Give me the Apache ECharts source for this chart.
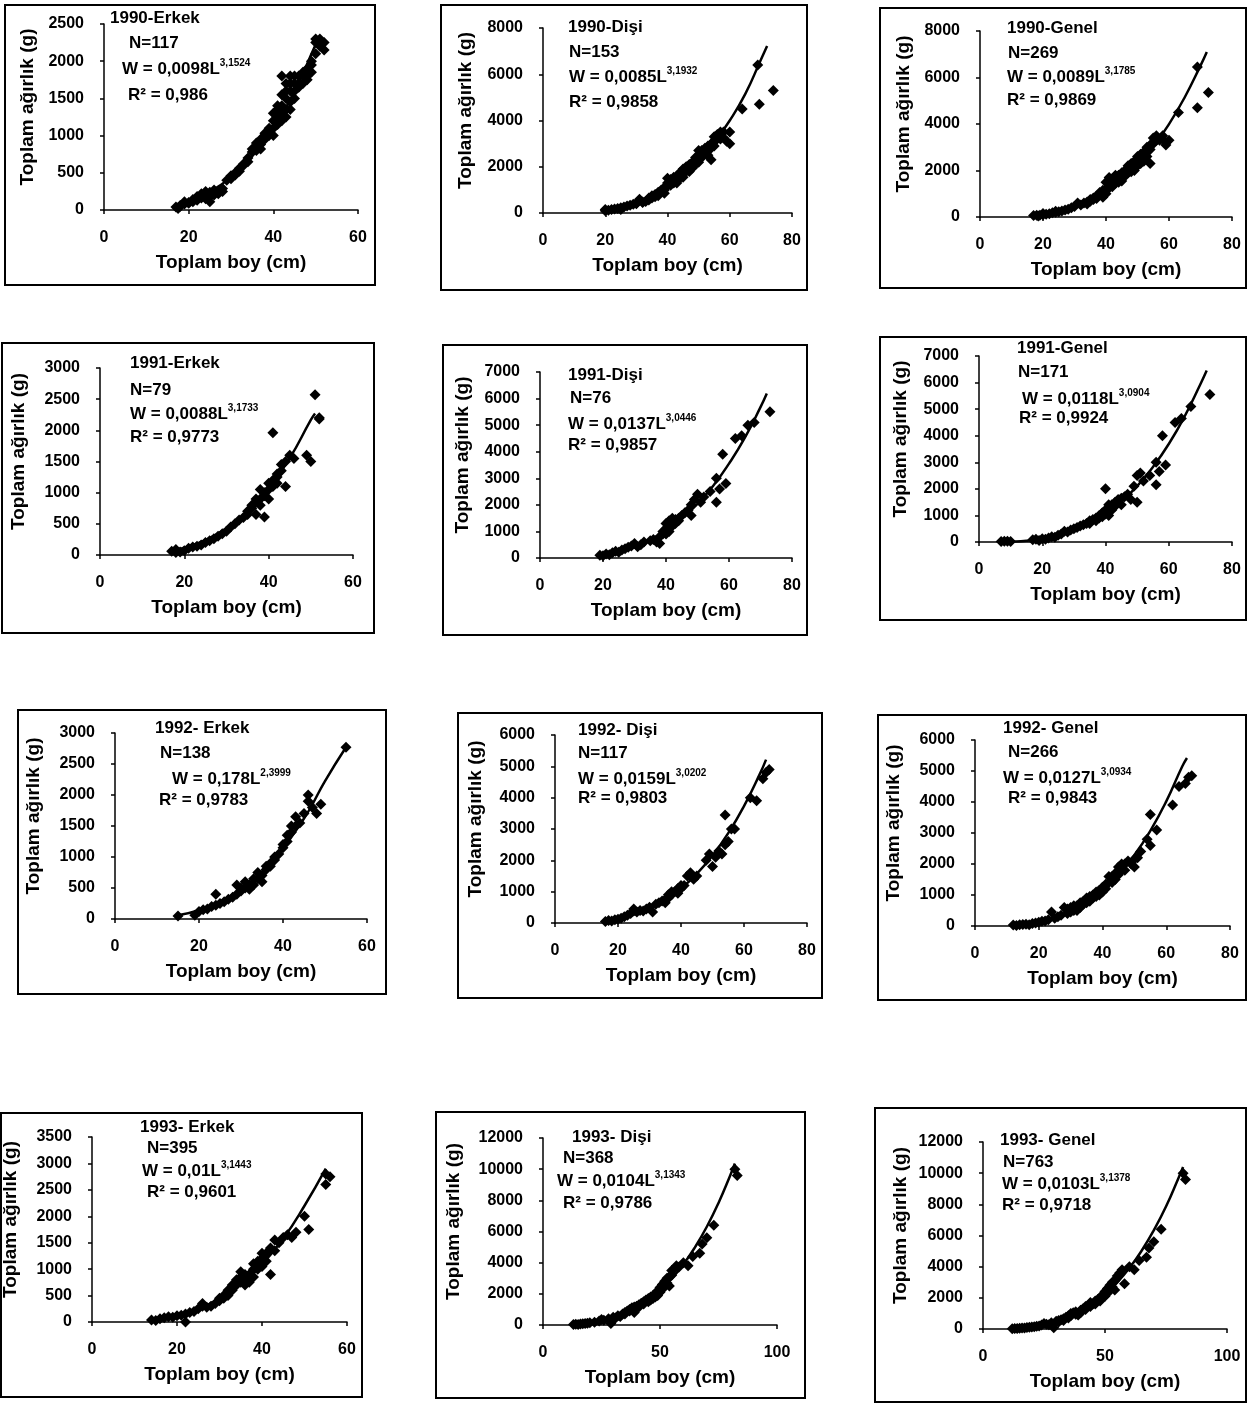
<!DOCTYPE html>
<html><head><meta charset="utf-8">
<script src="https://cdn.jsdelivr.net/npm/echarts/dist/echarts.min.js"></script>
<style>html,body{margin:0;padding:0;background:#fff}#c{width:1248px;height:1406px}</style>
</head><body><div id="c"></div>
<script>
// ---------- DATA ----------
const titles = ['1990-Erkek','1990-Dişi','1990-Genel','1991-Erkek','1991-Dişi','1991-Genel','1992- Erkek','1992- Dişi','1992- Genel','1993- Erkek','1993- Dişi','1993- Genel'];
const nTexts = ['N=117','N=153','N=269','N=79','N=76','N=171','N=138','N=117','N=266','N=395','N=368','N=763'];
const coefTexts = ['W = 0,0098L','W = 0,0085L','W = 0,0089L','W = 0,0088L','W = 0,0137L','W = 0,0118L','W = 0,178L','W = 0,0159L','W = 0,0127L','W = 0,01L','W = 0,0104L','W = 0,0103L'];
const expTexts = ['3,1524','3,1932','3,1785','3,1733','3,0446','3,0904','2,3999','3,0202','3,0934','3,1443','3,1343','3,1378'];
const r2Texts = ['R² = 0,986','R² = 0,9858','R² = 0,9869','R² = 0,9773','R² = 0,9857','R² = 0,9924','R² = 0,9783','R² = 0,9803','R² = 0,9843','R² = 0,9601','R² = 0,9786','R² = 0,9718'];
const xAxisName = 'Toplam boy (cm)';
const yAxisName = 'Toplam ağırlık (g)';
const yMax  = [2500,8000,8000,3000,7000,7000,3000,6000,6000,3500,12000,12000];
const yStep = [500,2000,2000,500,1000,1000,500,1000,1000,500,2000,2000];
const xMax  = [60,80,80,60,80,80,60,80,80,60,100,100];
const xStep = [20,20,20,20,20,20,20,20,20,20,50,50];

const pts1990E = [[17,40],[17.5,20],[18,60],[18,50],[19,80],[19,110],[20,100],[20,90],[21,110],[21,140],[22,130],[22,180],[23,160],[23,220],[24,250],[24,150],[25,180],[25,240],[25,110],[26,200],[26,270],[27,260],[27,220],[28,290],[28,250],[29,400],[30,420],[30,460],[31,500],[31,470],[32,520],[32,560],[33,620],[33,600],[34,700],[34,650],[35,780],[35,820],[36,850],[36,800],[36,900],[37,880],[37,820],[37,950],[38,950],[38,1030],[38,1000],[39,1000],[39,1100],[39,1050],[40,1100],[40,1000],[40,1200],[40,1300],[41,1150],[41,1250],[41,1350],[41,1400],[42,1300],[42,1200],[42,1400],[42,1550],[42,1800],[43,1350],[43,1500],[43,1250],[43,1600],[43,1700],[44,1450],[44,1600],[44,1350],[44,1700],[44,1800],[45,1500],[45,1600],[45,1700],[45,1800],[46,1650],[46,1700],[46,1800],[47,1700],[47,1800],[47,1850],[48,1900],[48,1750],[48,1800],[49,1950],[49,1850],[49,2000],[50,2100],[50,2250],[50,2300],[51,2300],[51,2200],[51,2250],[52,2150],[52,2250]];
const fit1990E = [[17,75],[20,125],[25,250],[30,445],[35,725],[40,1100],[45,1595],[50,2225],[51,2330]];

const pts1990D = [[20,100],[20,150],[21,120],[22,150],[23,170],[24,200],[25,230],[25,150],[26,260],[27,300],[28,330],[29,380],[30,420],[30,400],[31,600],[32,480],[32,450],[33,500],[34,560],[34,650],[35,650],[35,750],[36,800],[36,700],[37,900],[37,750],[38,950],[38,1000],[39,1100],[39,850],[39,1000],[40,1200],[40,1500],[40,1300],[41,1450],[41,1300],[41,1200],[42,1400],[42,1550],[42,1300],[43,1600],[43,1300],[43,1450],[44,1500],[44,1750],[44,1600],[45,1700],[45,1900],[45,1550],[46,2000],[46,1800],[46,1900],[47,1800],[47,2100],[47,1950],[48,2200],[48,1950],[48,2050],[49,2400],[49,2100],[49,2250],[50,2500],[50,2200],[50,2700],[50,2350],[51,2700],[51,2400],[51,2550],[52,2600],[52,2800],[52,2700],[53,2900],[53,2500],[53,2750],[54,3000],[54,2300],[54,2800],[55,3300],[55,3100],[55,2900],[56,3400],[56,3200],[57,3200],[57,3500],[58,3500],[58,3250],[59,3100],[60,3000],[60,3500],[64,4500],[69,6400],[69.5,4700],[74,5300]];
const fit1990D = [[20,120],[25,250],[30,440],[35,720],[40,1110],[45,1620],[50,2265],[55,3050],[60,4000],[65,5150],[70,6630],[72,7220]];

const pts1990G = [[17,60],[18,70],[18.5,40],[19,80],[20,100],[20,150],[21,120],[22,140],[23,180],[24,200],[24,250],[25,230],[26,260],[27,300],[28,330],[29,400],[30,450],[31,600],[32,520],[33,600],[34,650],[34,560],[35,750],[35,680],[36,820],[36,750],[37,900],[37,800],[38,950],[38,1050],[39,1050],[39,850],[39,1150],[40,1200],[40,1500],[40,1000],[41,1400],[41,1700],[41,1250],[42,1500],[42,1300],[42,1650],[43,1600],[43,1800],[43,1450],[44,1500],[44,1800],[44,1650],[45,1700],[45,1900],[45,1550],[46,2000],[46,1750],[46,1850],[47,1900],[47,2200],[47,2050],[48,2100],[48,2300],[48,1950],[49,2400],[49,2000],[49,2200],[50,2600],[50,2200],[50,2400],[51,2700],[51,2500],[51,2300],[52,2800],[52,2400],[52,2600],[53,3000],[53,2600],[53,2800],[54,3100],[54,2300],[54,2900],[55,3400],[55,3150],[56,3500],[56,3300],[57,3300],[58,3500],[59,3200],[59,3100],[60,3300],[63,4500],[69,6450],[69,4700],[72.5,5350]];
const fit1990G = [[17,72],[20,121],[25,250],[30,441],[35,720],[40,1101],[45,1600],[50,2238],[55,3030],[60,3995],[65,5150],[70,6512],[72,7100]];

const pts1991E = [[17,60],[18,90],[18,40],[19,50],[20,70],[21,110],[22,130],[23,140],[24,160],[25,200],[26,230],[27,260],[28,300],[29,340],[30,380],[31,450],[32,500],[33,560],[34,600],[35,700],[35,650],[36,750],[36,800],[37,850],[37,650],[37,900],[38,900],[38,1050],[38,800],[39,950],[39,610],[39,1000],[40,1050],[40,1150],[40,900],[41,1200],[41,1100],[41,1960],[42,1300],[42,1250],[42,1150],[43,1450],[43,1350],[44,1500],[44,1100],[45,1600],[46,1550],[49,1600],[50,1500],[51,2570],[52,2180],[52,2200]];
const fit1991E = [[17,70],[20,118],[25,240],[30,428],[35,698],[40,1067],[45,1553],[50,2167],[51,2270]];

const pts1991D = [[19,100],[20,80],[21,150],[22,120],[23,200],[24,250],[25,220],[26,300],[27,350],[28,400],[29,450],[30,550],[31,420],[32,500],[33,600],[35,650],[36,700],[37,600],[38,800],[38,550],[39,900],[39,1000],[40,1100],[40,1300],[40,900],[41,1000],[41,1400],[41,1200],[42,1200],[42,1500],[43,1300],[43,1450],[44,1500],[44,1400],[45,1600],[46,1700],[47,1800],[48,2000],[48,1600],[49,2200],[50,2400],[51,2100],[52,2300],[54,2500],[56,3000],[56,2100],[57,2600],[58,3900],[59,2800],[62,4500],[64,4600],[66,5000],[68,5100],[73,5500]];
const fit1991D = [[19,107],[20,125],[25,247],[30,430],[35,690],[40,1035],[45,1480],[50,2040],[55,2720],[60,3552],[65,4520],[70,5677],[72,6190]];

const pts1991G = [[7,20],[8,30],[9,30],[10,20],[17,80],[18,100],[19,60],[20,120],[21,100],[22,150],[23,200],[24,180],[25,250],[26,300],[27,400],[28,380],[29,450],[30,500],[31,550],[32,600],[33,650],[34,700],[35,800],[35,700],[36,850],[37,900],[37,800],[38,1000],[38,900],[39,1100],[39,950],[40,2000],[40,1200],[40,1050],[41,1300],[41,1000],[41,1400],[42,1400],[42,1200],[43,1500],[43,1350],[44,1600],[45,1400],[45,1650],[46,1700],[47,1800],[48,1600],[49,2100],[50,2500],[50,1500],[51,2600],[52,2300],[54,2500],[56,3000],[56,2150],[57,2650],[58,4000],[59,2900],[62,4500],[64,4650],[67,5100],[73,5550]];
const fit1991G = [[7,5],[10,15],[15,51],[20,124],[25,247],[30,433],[35,697],[40,1055],[45,1519],[50,2100],[55,2820],[60,3688],[65,4724],[70,5935],[72,6450]];

const pts1992E = [[15,50],[19,60],[20,120],[21,150],[22,160],[23,200],[24,400],[24,220],[25,250],[26,280],[27,320],[28,350],[29,550],[29,400],[30,450],[30,500],[31,600],[31,500],[32,480],[32,550],[33,550],[33,650],[34,650],[34,750],[35,700],[35,600],[36,800],[36,850],[37,900],[37,850],[38,950],[38,1000],[39,1050],[40,1200],[40,1150],[41,1250],[41,1350],[42,1400],[42,1500],[43,1650],[43,1500],[44,1550],[45,1700],[46,2000],[46,1900],[47,1800],[48,1700],[49,1850],[55,2770]];
const fit1992E = [[15,60],[20,142],[25,278],[30,480],[35,763],[40,1139],[45,1622],[47,1850],[50,2225],[55,2770]];

const pts1992D = [[16,50],[17,80],[18,60],[19,100],[20,120],[21,150],[22,200],[23,250],[24,300],[25,450],[26,350],[27,400],[28,380],[29,450],[30,500],[31,350],[32,600],[33,650],[34,700],[35,750],[35,650],[36,800],[36,900],[37,900],[37,1000],[38,1000],[39,950],[39,1100],[40,1100],[40,1200],[41,1200],[42,1500],[43,1600],[44,1400],[45,1500],[48,2000],[49,2200],[50,1800],[51,2100],[52,2300],[53,2200],[54,2500],[54,3450],[55,2600],[56,3000],[57,3000],[62,4000],[64,3900],[66,4600],[67,4800],[68,4900]];
const fit1992D = [[16,69],[20,135],[25,265],[30,460],[35,731],[40,1097],[45,1566],[50,2151],[55,2867],[60,3729],[65,4751],[67,5215]];

const pts1992G = [[12,30],[13,20],[14,40],[15,50],[16,60],[17,40],[18,80],[19,100],[20,120],[21,150],[22,160],[23,200],[24,450],[25,250],[26,300],[27,350],[28,600],[29,400],[29,550],[30,450],[30,600],[31,650],[31,500],[32,500],[32,650],[33,600],[33,750],[34,700],[34,800],[35,750],[35,900],[36,800],[36,950],[37,900],[37,1000],[38,950],[38,1100],[39,1000],[39,1150],[40,1100],[40,1250],[41,1200],[41,1350],[42,1600],[42,1400],[43,1400],[43,1600],[44,1500],[44,1700],[45,1900],[45,1650],[46,2000],[46,1800],[47,1800],[47,2000],[48,2100],[49,2000],[50,1900],[50,2150],[51,2200],[52,2400],[54,2800],[55,3600],[55,2600],[57,3100],[62,3900],[64,4500],[66,4600],[67,4800],[68,4850]];
const fit1992G = [[12,28],[15,55],[20,135],[25,268],[30,471],[35,758],[40,1148],[45,1654],[50,2287],[55,3071],[60,4021],[65,5147],[66.5,5420]];

const pts1993E = [[14,40],[15,30],[16,60],[17,80],[18,100],[19,90],[20,120],[21,130],[22,150],[22,0],[23,180],[24,200],[25,250],[26,300],[26,350],[27,280],[28,300],[29,350],[30,400],[30,450],[31,450],[31,500],[32,500],[32,600],[33,600],[33,700],[34,700],[34,800],[35,850],[35,950],[35,750],[36,900],[36,700],[36,800],[37,750],[37,900],[38,1000],[38,1100],[38,850],[39,1000],[39,1150],[40,1200],[40,1050],[40,1300],[41,1300],[41,1150],[42,1400],[42,900],[43,1550],[43,1350],[44,1500],[45,1600],[46,1650],[47,1600],[48,1700],[50,2000],[51,1750],[55,2800],[55,2600],[56,2750]];
const fit1993E = [[14,40],[20,123],[25,249],[30,441],[35,716],[40,1091],[45,1580],[50,2199],[55,2900]];

const pts1993D = [[13,30],[14,50],[15,40],[16,60],[17,80],[18,100],[19,120],[20,150],[22,180],[24,250],[25,350],[26,300],[28,400],[29,100],[30,500],[31,450],[32,600],[33,550],[34,700],[35,800],[35,700],[36,900],[37,1000],[37,900],[38,1100],[39,800],[39,1150],[40,1200],[41,1300],[41,1150],[42,1400],[43,1500],[43,1350],[44,1600],[45,1700],[45,1500],[46,1800],[46,1600],[47,1900],[47,1700],[48,2000],[48,1800],[49,2200],[49,1900],[50,2400],[50,2100],[51,2600],[51,2300],[52,2800],[52,2500],[53,3000],[53,2700],[54,2500],[54,3100],[55,3500],[55,3200],[56,3600],[57,3800],[58,3700],[60,4000],[62,3800],[64,4400],[67,4600],[68,5200],[70,5600],[73,6400],[82,10000],[83,9600]];
const fit1993D = [[13,32],[20,125],[25,250],[30,443],[35,718],[40,1093],[45,1581],[50,2196],[55,2963],[60,3890],[65,5001],[70,6303],[75,7830],[80,9595],[82,10360]];

const pts1993G = [[12,20],[13,30],[14,40],[15,50],[16,60],[17,70],[18,90],[19,110],[20,130],[21,150],[22,170],[23,200],[24,250],[25,350],[26,300],[27,280],[28,400],[29,80],[30,500],[31,550],[31,450],[32,600],[33,650],[33,550],[34,750],[35,850],[35,700],[36,1000],[36,850],[37,1050],[38,1100],[38,950],[39,900],[40,1200],[40,1050],[41,1300],[42,1450],[42,1250],[43,1500],[44,1700],[44,1450],[45,1600],[46,1800],[46,1600],[47,1900],[48,2000],[48,1800],[49,2200],[50,2400],[50,2100],[51,2600],[51,2300],[52,2800],[52,2500],[53,3000],[53,2700],[54,2500],[54,3100],[55,3400],[56,3600],[57,3800],[58,2900],[60,4000],[62,3800],[64,4400],[67,4600],[68,5200],[70,5600],[73,6400],[82,10000],[83,9600]];
const fit1993G = [[12,25],[20,125],[25,250],[30,444],[35,718],[40,1097],[45,1585],[50,2207],[55,2980],[60,3908],[65,5020],[70,6335],[75,7860],[80,9649],[82,10400]];

const allPts = [pts1990E,pts1990D,pts1990G,pts1991E,pts1991D,pts1991G,pts1992E,pts1992D,pts1992G,pts1993E,pts1993D,pts1993G];
const allFit = [fit1990E,fit1990D,fit1990G,fit1991E,fit1991D,fit1991G,fit1992E,fit1992D,fit1992G,fit1993E,fit1993D,fit1993G];

// ---------- LAYOUT (pixels) ----------
const grids = [[104,24,254,186],[543,28,249,185],[980,31,252,186],[100,368,253,187],[540,372,252,186],[979,356,253,186],[115,733,252,186],[555,735,252,188],[975,740,255,186],[92,1137,255,185],[543,1138,234,187],[983,1142,244,187]];
const frames = [[5,5,370,280],[441,5,366,285],[880,8,366,280],[2,343,372,290],[443,345,364,290],[880,337,366,283],[18,710,368,284],[458,713,364,285],[878,715,368,285],[1,1113,361,284],[436,1112,369,286],[875,1108,371,294]];
const yNameGap = [67,68,67,72,68,69,72,70,72,72,80,73];
const annPos = [
  [[110,18],[129,43],[122,68],[128,95]],
  [[568,27],[569,52],[569,76],[569,102]],
  [[1007,28],[1008,53],[1007,76],[1007,100]],
  [[130,363],[130,390],[130,413],[130,437]],
  [[568,375],[570,398],[568,423],[568,445]],
  [[1017,348],[1018,372],[1022,398],[1019,418]],
  [[155,728],[160,753],[172,778],[159,800]],
  [[578,730],[578,753],[578,778],[578,798]],
  [[1003,728],[1008,752],[1003,777],[1008,798]],
  [[140,1127],[147,1148],[142,1170],[147,1192]],
  [[572,1137],[563,1158],[557,1180],[563,1203]],
  [[1000,1140],[1003,1162],[1002,1183],[1002,1205]]
];

const FF = '"Liberation Sans", Arial, sans-serif';
const chart = echarts.init(document.getElementById('c'), null, {renderer:'canvas'});
const option = {animation:false, backgroundColor:'#fff', grid:[], xAxis:[], yAxis:[], series:[], graphic:[]};
const plain = v => String(v);

for (let i = 0; i < 12; i++) {
  const g = grids[i];
  option.grid.push({left:g[0], top:g[1], width:g[2], height:g[3], containLabel:false});
  option.xAxis.push({
    type:'value', gridIndex:i, min:0, max:xMax[i], interval:xStep[i],
    name:xAxisName, nameLocation:'middle', nameGap:43,
    nameTextStyle:{fontFamily:FF, fontSize:19, fontWeight:'bold', color:'#000'},
    axisLine:{show:true, onZero:false, lineStyle:{color:'#000', width:1.5}},
    axisTick:{show:true, inside:false, length:4, lineStyle:{color:'#000', width:1.5}},
    axisLabel:{fontFamily:FF, fontSize:16, fontWeight:'bold', color:'#000', margin:20, formatter:plain},
    splitLine:{show:false}
  });
  option.yAxis.push({
    type:'value', gridIndex:i, min:0, max:yMax[i], interval:yStep[i],
    name:yAxisName, nameLocation:'middle', nameGap:yNameGap[i],
    nameTextStyle:{fontFamily:FF, fontSize:19, fontWeight:'bold', color:'#000', padding:[0,0,0,20]},
    axisLine:{show:true, onZero:false, lineStyle:{color:'#000', width:1.5}},
    axisTick:{show:true, inside:false, length:4, lineStyle:{color:'#000', width:1.5}},
    axisLabel:{fontFamily:FF, fontSize:16, fontWeight:'bold', color:'#000', margin:20, formatter:plain},
    splitLine:{show:false}
  });
  option.series.push({
    type:'scatter', xAxisIndex:i, yAxisIndex:i, data:allPts[i],
    symbol:'diamond', symbolSize:11, itemStyle:{color:'#000', opacity:1}, z:2
  });
  option.series.push({
    type:'line', xAxisIndex:i, yAxisIndex:i, data:allFit[i], smooth:true,
    showSymbol:false, symbol:'none', lineStyle:{color:'#000', width:2.5}, z:3
  });
  const f = frames[i];
  option.graphic.push({type:'rect', silent:true, shape:{x:f[0], y:f[1], width:f[2], height:f[3]},
    style:{fill:'none', stroke:'#000', lineWidth:2}});
  const a = annPos[i];
  const bold17 = 'bold 17px ' + FF;
  option.graphic.push({type:'text', x:a[0][0], y:a[0][1], style:{text:titles[i], font:bold17, fill:'#000', verticalAlign:'middle'}});
  option.graphic.push({type:'text', x:a[1][0], y:a[1][1], style:{text:nTexts[i], font:bold17, fill:'#000', verticalAlign:'middle'}});
  option.graphic.push({type:'text', x:a[2][0], y:a[2][1], style:{
    text:'{m|' + coefTexts[i] + '}{s|' + expTexts[i] + '}', verticalAlign:'middle', fill:'#000',
    rich:{m:{font:bold17, fill:'#000', lineHeight:20, verticalAlign:'bottom'},
          s:{font:'bold 10px ' + FF, fill:'#000', lineHeight:11, verticalAlign:'top'}}}});
  option.graphic.push({type:'text', x:a[3][0], y:a[3][1], style:{text:r2Texts[i], font:bold17, fill:'#000', verticalAlign:'middle'}});
}
chart.setOption(option);
</script></body></html>
